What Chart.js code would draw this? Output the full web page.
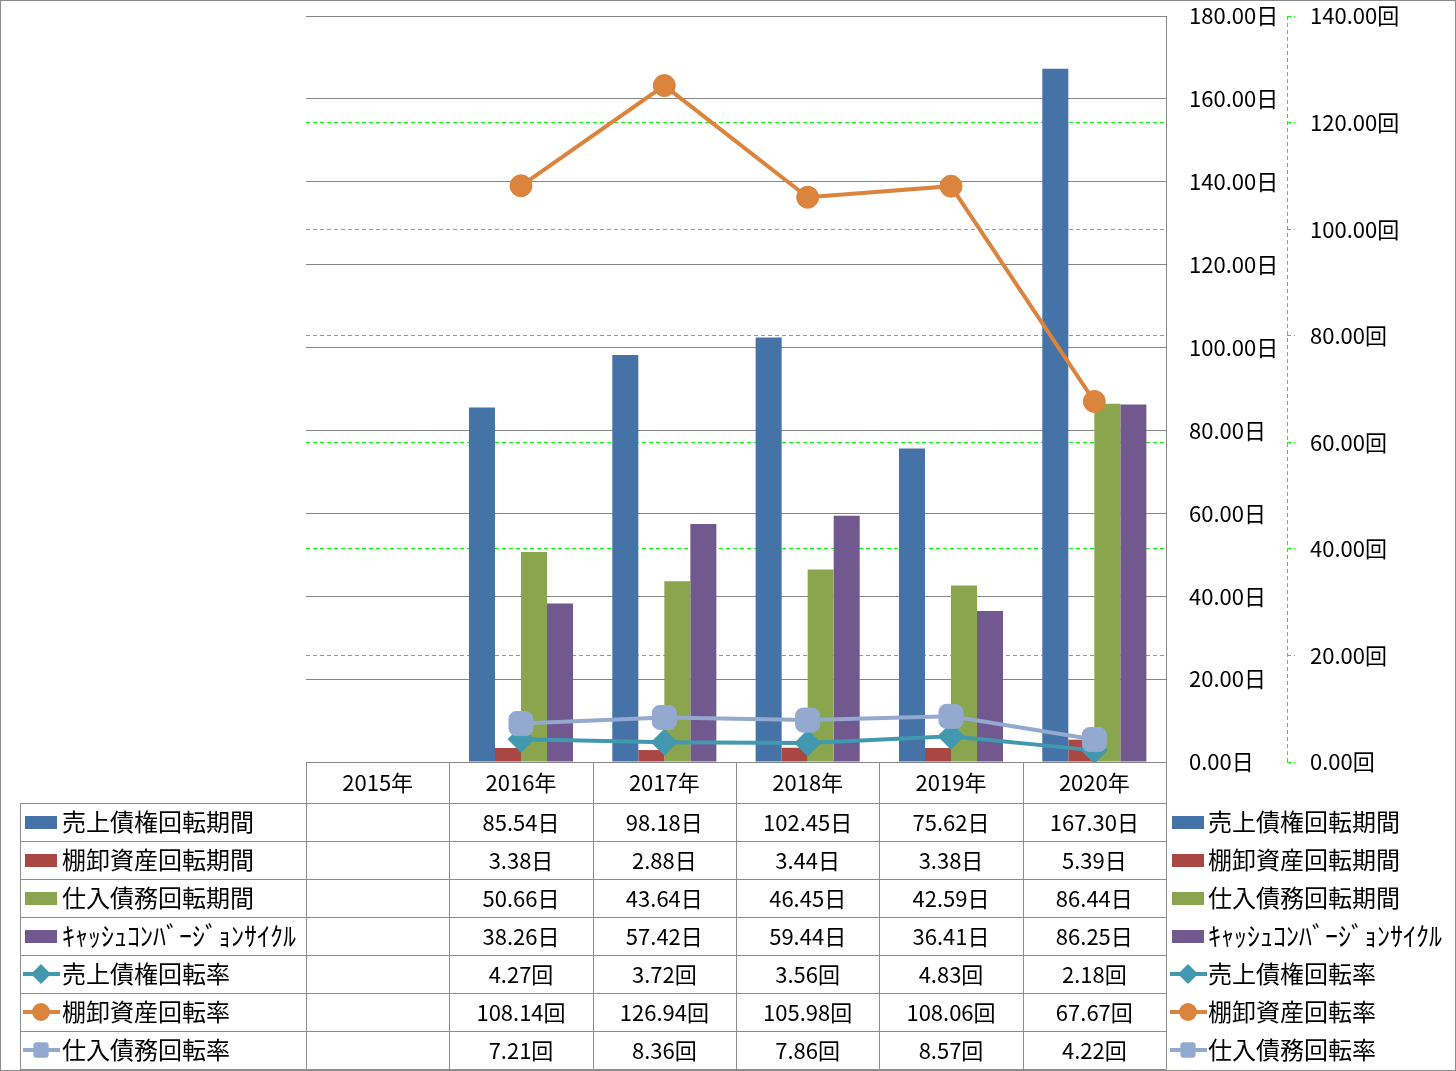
<!DOCTYPE html>
<html>
<head>
<meta charset="utf-8">
<script src="https://cdn.jsdelivr.net/npm/chart.js@4.4.1/dist/chart.umd.min.js"></script>
<style>
  html, body { margin: 0; padding: 0; background: #fff; }
  canvas { display: block; }
</style>
</head>
<body>
<canvas id="chart" width="1456" height="1071"></canvas>
<script>
// data (2015 has no values)
const categories = ['2015年', '2016年', '2017年', '2018年', '2019年', '2020年'];
const receivableDays = [null, 85.54, 98.18, 102.45, 75.62, 167.30];
const inventoryDays = [null, 3.38, 2.88, 3.44, 3.38, 5.39];
const payableDays = [null, 50.66, 43.64, 46.45, 42.59, 86.44];
const cccDays = [null, 38.26, 57.42, 59.44, 36.41, 86.25];
const receivableTurns = [null, 4.27, 3.72, 3.56, 4.83, 2.18];
const inventoryTurns = [null, 108.14, 126.94, 105.98, 108.06, 67.67];
const payableTurns = [null, 7.21, 8.36, 7.86, 8.57, 4.22];

const dayTickMax = 180, dayTickStep = 20;
const turnTickMax = 140, turnTickStep = 20;

const FONT = '"Noto Sans CJK JP", "Noto Sans", sans-serif';
const GRID_GRAY = '#868686';
const GREEN = '#00ff00';

const barSeries = [
  { label: '売上債権回転期間', data: receivableDays, color: '#4572A7' },
  { label: '棚卸資産回転期間', data: inventoryDays, color: '#AA4643' },
  { label: '仕入債務回転期間', data: payableDays, color: '#89A54E' },
  { label: 'ｷｬｯｼｭｺﾝﾊﾞｰｼﾞｮﾝｻｲｸﾙ', data: cccDays, color: '#71588F' }
];
const lineSeries = [
  { label: '売上債権回転率', data: receivableTurns, color: '#4198AF', point: 'rectRot', radius: 13, order: 3 },
  { label: '棚卸資産回転率', data: inventoryTurns, color: '#DB843D', point: 'circle', radius: 11, order: 2 },
  { label: '仕入債務回転率', data: payableTurns, color: '#93A9CF', point: 'rectRounded', radius: 14, order: 1 }
];

function legendMarker(ctx, style, x, y, r, color) {
  ctx.fillStyle = color;
  ctx.beginPath();
  if (style === 'circle') {
    ctx.arc(x, y, r, 0, Math.PI * 2);
  } else if (style === 'rectRot') {
    ctx.moveTo(x, y - r); ctx.lineTo(x + r, y); ctx.lineTo(x, y + r); ctx.lineTo(x - r, y);
    ctx.closePath();
  } else {
    const h = r * 0.85, c = 3;
    ctx.moveTo(x - h + c, y - h);
    ctx.arcTo(x + h, y - h, x + h, y + h, c);
    ctx.arcTo(x + h, y + h, x - h, y + h, c);
    ctx.arcTo(x - h, y + h, x - h, y - h, c);
    ctx.arcTo(x - h, y - h, x + h, y - h, c);
    ctx.closePath();
  }
  ctx.fill();
}

// data table + legend under the plot, plus dashed secondary axis line
const tablePlugin = {
  id: 'dataTable',
  afterDraw(chart) {
    const { ctx, chartArea } = chart;
    const xs = chart.scales.x, y1 = chart.scales.y1;
    const top = chartArea.bottom;
    const headerH = 41, rowH = 38, legendLeft = 20;
    const rows = barSeries.map(s => ({ ...s, kind: 'bar', unit: '日' }))
      .concat(lineSeries.map(s => ({ ...s, kind: 'line', unit: '回' })));
    const bodyTop = top + headerH;
    const bottom = bodyTop + rows.length * rowH;
    const edge = i => Math.round(xs.getPixelForValue(i - 0.5)) + 0.5;
    const center = i => xs.getPixelForValue(i);

    ctx.save();
    // dashed secondary axis line
    ctx.strokeStyle = GREEN;
    ctx.lineWidth = 1;
    ctx.setLineDash([4, 3]);
    ctx.beginPath();
    const ax = Math.round(y1.left) + 0.5;
    ctx.moveTo(ax, chartArea.top);
    ctx.lineTo(ax, chartArea.bottom);
    ctx.stroke();
    ctx.setLineDash([]);

    // table grid
    ctx.strokeStyle = '#8c8c8c';
    ctx.beginPath();
    for (let i = 0; i <= categories.length; i++) {
      ctx.moveTo(edge(i), top);
      ctx.lineTo(edge(i), bottom);
    }
    ctx.moveTo(legendLeft + 0.5, bodyTop);
    ctx.lineTo(legendLeft + 0.5, bottom);
    for (let r = 0; r <= rows.length; r++) {
      const y = bodyTop + r * rowH + 0.5;
      ctx.moveTo(legendLeft, y);
      ctx.lineTo(edge(categories.length), y);
    }
    ctx.stroke();

    // header
    ctx.fillStyle = '#000';
    ctx.textAlign = 'center';
    ctx.textBaseline = 'middle';
    ctx.font = '22px ' + FONT;
    categories.forEach((c, i) => ctx.fillText(c, center(i), top + headerH / 2));

    rows.forEach((row, r) => {
      const cy = bodyTop + r * rowH + rowH / 2;
      // values
      ctx.fillStyle = '#000';
      ctx.textAlign = 'center';
      ctx.font = '22px ' + FONT;
      row.data.forEach((v, i) => {
        if (v !== null) ctx.fillText(v.toFixed(2) + row.unit, center(i), cy + 1);
      });
      // legend keys on both sides
      [[legendLeft + 5, legendLeft + 42], [chartArea.right + 6, chartArea.right + 42]].forEach(([kx, tx]) => {
        if (row.kind === 'bar') {
          ctx.fillStyle = row.color;
          ctx.fillRect(kx, cy - 6, 32, 13);
        } else {
          ctx.strokeStyle = row.color;
          ctx.lineWidth = 4;
          ctx.beginPath();
          ctx.moveTo(kx - 2, cy);
          ctx.lineTo(kx + 35, cy);
          ctx.stroke();
          legendMarker(ctx, row.point, kx + 16, cy, row.point === 'rectRot' ? 10 : 9, row.color);
        }
        ctx.fillStyle = '#000';
        ctx.textAlign = 'left';
        // the half-width katakana label is drawn a bit larger, as in the source
        ctx.font = (/[\uFF61-\uFF9F]/.test(row.label) ? '26px ' : '24px ') + FONT;
        ctx.fillText(row.label, tx, cy);
      });
    });

    // outer frame
    ctx.strokeStyle = '#8c8c8c';
    ctx.lineWidth = 1;
    ctx.strokeRect(0.5, 0.5, chart.width - 1, chart.height - 1);
    ctx.restore();
  }
};

const datasets = barSeries.map(s => ({
  type: 'bar',
  label: s.label,
  data: s.data,
  backgroundColor: s.color,
  borderWidth: 0,
  yAxisID: 'y',
  order: 10,
  categoryPercentage: 0.726,
  barPercentage: 1
})).concat(lineSeries.map(s => ({
  type: 'line',
  label: s.label,
  data: s.data,
  borderColor: s.color,
  backgroundColor: s.color,
  borderWidth: 4,
  pointStyle: s.point,
  pointRadius: s.radius,
  pointBackgroundColor: s.color,
  pointBorderColor: s.color,
  pointBorderWidth: 1,
  yAxisID: 'y1',
  order: s.order,
  tension: 0
})));

function fixWidth(w) {
  return scale => {
    scale.width = w;
    scale.paddingTop = 0;
    scale.paddingBottom = 0;
  };
}

new Chart(document.getElementById('chart'), {
  type: 'bar',
  data: { labels: categories, datasets },
  plugins: [tablePlugin],
  options: {
    responsive: false,
    animation: false,
    devicePixelRatio: 1,
    layout: { padding: { left: 306, top: 16, right: 0, bottom: 309 } },
    plugins: { legend: { display: false }, tooltip: { enabled: false } },
    scales: {
      x: { display: false, offset: true },
      y: {
        position: 'right',
        min: 0, max: dayTickMax,
        afterFit: fixWidth(121),
        ticks: {
          stepSize: dayTickStep,
          padding: 23,
          color: '#000',
          font: { family: FONT, size: 22 },
          callback: v => v.toFixed(2) + '日'
        },
        grid: { color: GRID_GRAY, drawTicks: false },
        border: { display: true, color: GRID_GRAY }
      },
      y1: {
        position: 'right',
        min: 0, max: turnTickMax,
        afterFit: fixWidth(169),
        ticks: {
          stepSize: turnTickStep,
          padding: 15,
          color: '#000',
          font: { family: FONT, size: 22 },
          callback: v => v.toFixed(2) + '回'
        },
        grid: {
          color: c => (c.tick && (c.tick.value === 0 || c.tick.value === turnTickMax)) ? 'rgba(0,0,0,0)' : GREEN,
          tickColor: GREEN,
          tickLength: 8,
          tickBorderDash: [4, 3]
        },
        border: { display: false, dash: [4, 3] }
      }
    }
  }
});
</script>
</body>
</html>
